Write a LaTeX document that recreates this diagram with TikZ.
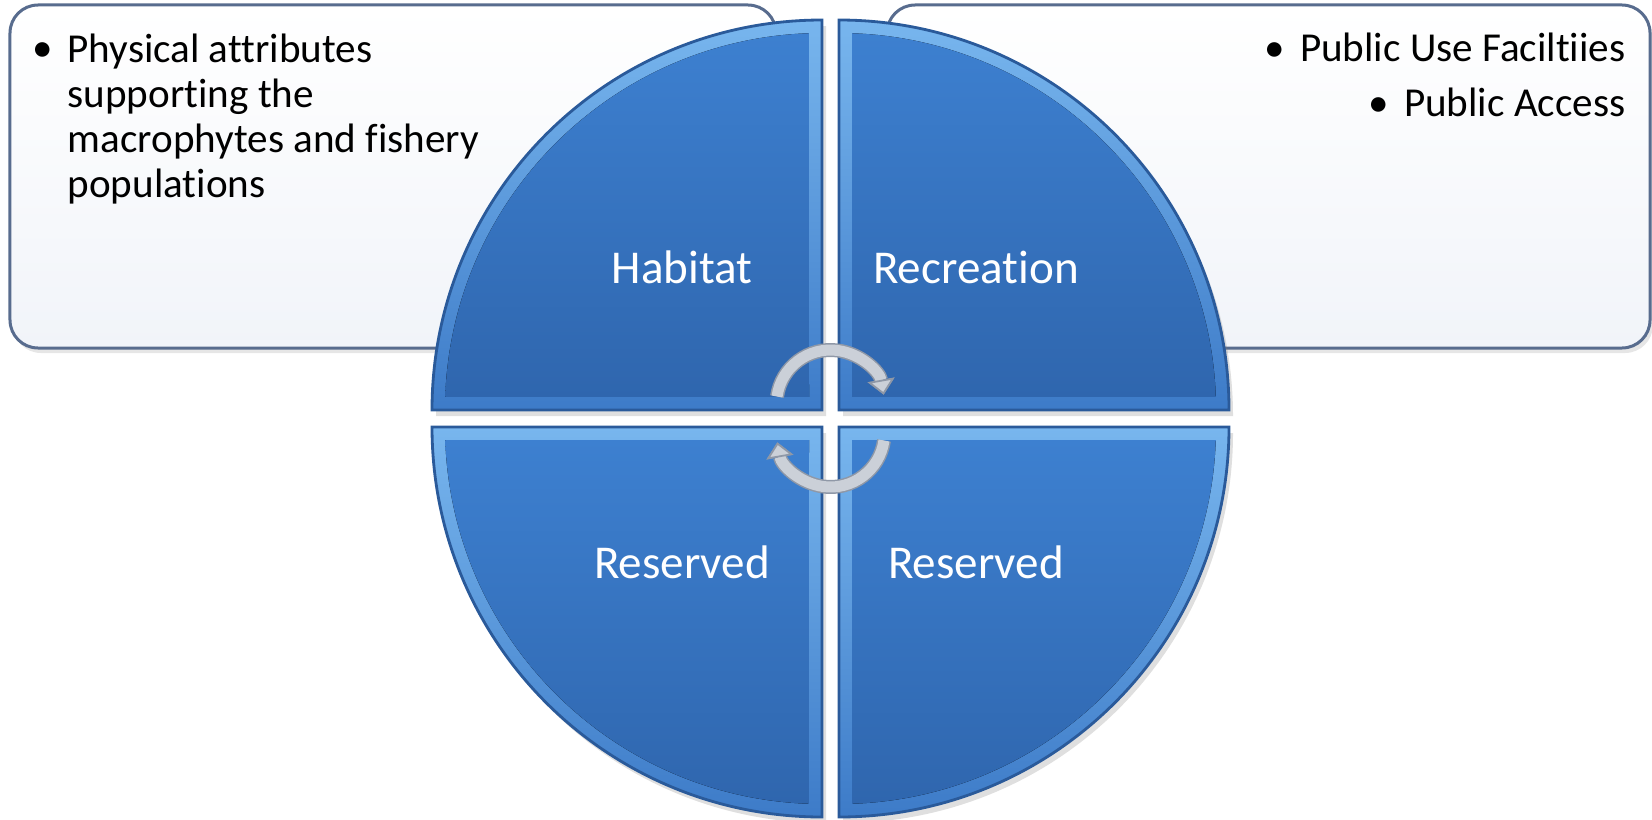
\documentclass[tikz,border=0pt]{standalone}
\usepackage{fontspec}
\setmainfont{Carlito}[Ligatures=NoCommon]
\usetikzlibrary{calc,shadows,arrows.meta}

\definecolor{rimblue}{HTML}{2A5A9A}
\definecolor{bodytop}{HTML}{3D80D0}
\definecolor{bodybot}{HTML}{2F66AE}
\definecolor{beveltop}{HTML}{78B6EE}
\definecolor{bevelbot}{HTML}{3D7BC8}
\definecolor{boxline}{HTML}{586C8E}
\definecolor{boxfill}{HTML}{F1F4F9}
\definecolor{cyclegray}{HTML}{CBD0D8}
\definecolor{cycleedge}{HTML}{8F98A7}

% one bevelled quarter of the disc: corner, start angle
\newcommand{\quarter}[2]{%
  \pgfmathsetmacro\qmid{#2+45}
  \pgfmathsetmacro\qin{#2+2}
  \fill[bevel] (#1) -- ++(#2:3.9) arc[start angle=#2, delta angle=90, radius=3.9] -- cycle;
  \fill[body] ($(#1)+(\qmid:0.184)$) -- ($(#1)+(\qin:3.77)$)
    arc[start angle=\qin, delta angle=86, radius=3.77] -- cycle;
  \draw[rim] (#1) -- ++(#2:3.9) arc[start angle=#2, delta angle=90, radius=3.9] -- cycle;
}

\begin{document}
\begin{tikzpicture}[
  infobox/.style={draw=boxline, line width=0.03cm, rounded corners=0.28cm,
    top color=white, bottom color=boxfill, inner sep=0pt, outer sep=0pt,
    drop shadow={opacity=0.2, shadow xshift=0.3mm, shadow yshift=-0.5mm}},
  bevel/.style={top color=beveltop, bottom color=bevelbot,
    drop shadow={opacity=0.25, shadow xshift=0.4mm, shadow yshift=-0.6mm}},
  body/.style={top color=bodytop, bottom color=bodybot},
  rim/.style={draw=rimblue, line width=0.8pt},
  sector/.style={anchor=base, inner sep=0pt, text=white,
    font=\fontsize{13.4}{16}\selectfont},
  note/.style={inner sep=0pt, font=\fontsize{11.7}{12.8}\selectfont},
  cycarrow/.style={line width=0.11cm, cyclegray,
    -{Triangle[width=0.27cm, length=0.15cm, line width=0.5pt, color=cycleedge, fill=cyclegray]},
    preaction={draw=cycleedge, line width=0.14cm}}]
\useasboundingbox (0,0) rectangle (16.52,8.19);

\node[infobox, minimum width=7.66cm, minimum height=3.43cm] (habbox) at (3.93,6.425) {};
\node[infobox, minimum width=7.63cm, minimum height=3.43cm] (recbox) at (12.685,6.425) {};

\node[note, anchor=base] (habdot) at (0.43,7.57) {\textbullet};
\node[note, anchor=base west, align=left] (habnote) at (0.67,6.22)
  {Physical attributes\\supporting the\\macrophytes and fishery\\populations};
\node[note, anchor=base east, align=right] (recnote) at (16.26,7.03)
  {\textbullet\hspace{0.37em}Public Use Faciltiies\\[2.6pt]\textbullet\hspace{0.37em}Public Access};

\coordinate (tl) at (8.22,4.09);
\coordinate (tr) at (8.39,4.09);
\coordinate (bl) at (8.22,3.92);
\coordinate (br) at (8.39,3.92);
\quarter{tl}{90}
\quarter{tr}{0}
\quarter{bl}{180}
\quarter{br}{270}

\node[sector] (habitat) at (6.82,5.36) {Habitat};
\node[sector] (recreation) at (9.76,5.36) {Recreation};
\node[sector] (reserveda) at (6.82,2.41) {Reserved};
\node[sector] (reservedb) at (9.76,2.41) {Reserved};

\coordinate (upc) at (8.305,4.15);
\coordinate (lowc) at (8.305,3.86);
\draw[cycarrow] (upc) ++(172:0.54) arc[start angle=172, end angle=10, radius=0.54];
\draw[cycarrow] (lowc) ++(-8:0.54) arc[start angle=-8, end angle=-170, radius=0.54];
\end{tikzpicture}
\end{document}
